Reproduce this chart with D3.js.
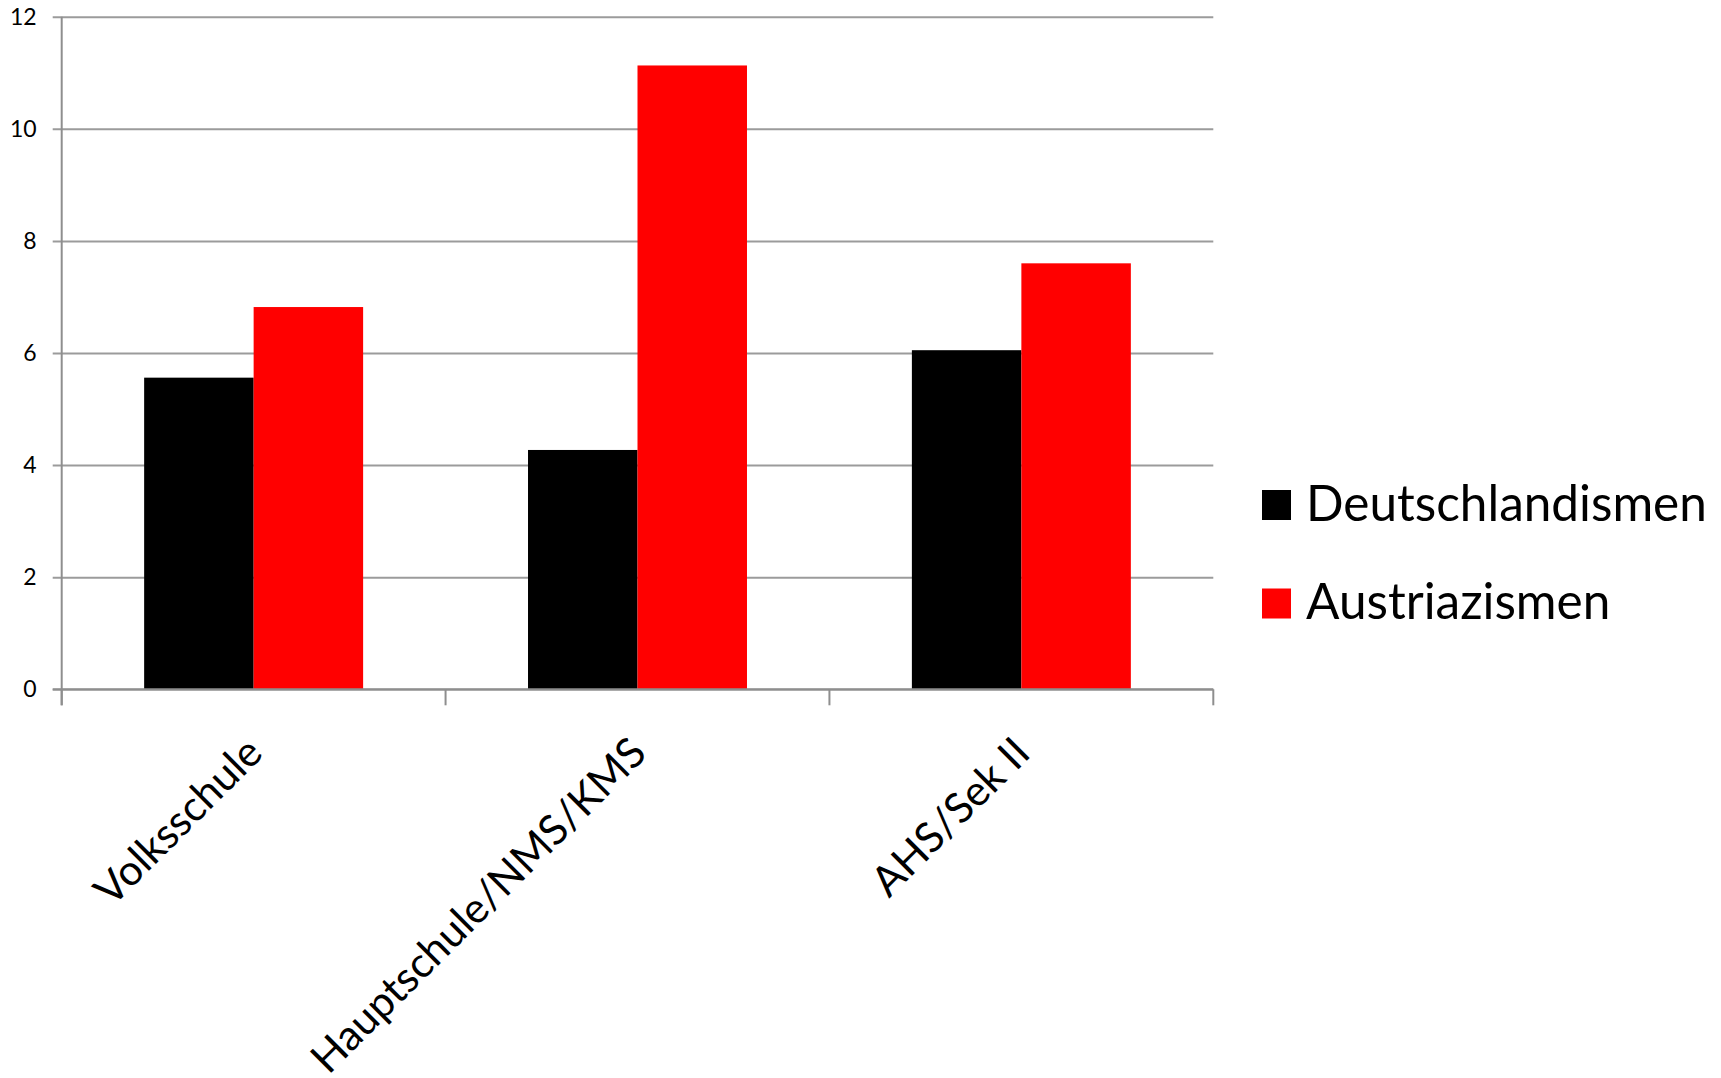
<!DOCTYPE html>
<html>
<head>
<meta charset="utf-8">
<script src="https://cdn.jsdelivr.net/npm/d3@7"></script>
<style>
  html, body { margin: 0; padding: 0; background: #fff; }
  svg { display: block; }
  text { font-family: Lato, "Open Sans", sans-serif; fill: #000; }
</style>
</head>
<body>
<svg id="chart" width="1721" height="1078"></svg>
<script>
// School types on the x axis
const categories = ["Volksschule", "Hauptschule/NMS/KMS", "AHS/Sek II"];
// Series names shown in the legend
const seriesNames = ["Deutschlandismen", "Austriazismen"];
// Values per school type
const deutschlandismen = [5.56, 4.27, 6.05];
const austriazismen = [6.82, 11.13, 7.60];
// Y axis ticks
const yTicks = [0, 2, 4, 6, 8, 10, 12];

const seriesColors = ["#000000", "#ff0000"];
const seriesValues = [deutschlandismen, austriazismen];

const svg = d3.select("#chart");

const plot = { left: 61.7, right: 1213.3, top: 16.7, bottom: 689.3 };

const x = d3.scaleBand()
  .domain(categories)
  .range([plot.left, plot.right])
  .padding(0);

const xSub = d3.scaleBand()
  .domain(seriesNames)
  .range([0, x.bandwidth()])
  .paddingInner(0)
  .paddingOuter(0.753);

const y = d3.scaleLinear()
  .domain([0, 12])
  .range([plot.bottom, plot.top]);

const gridColor = "#9b9b9b";
const axisColor = "#8e8e8e";

// Horizontal gridlines with short tick stubs on the left
const grid = svg.append("g")
  .attr("transform", `translate(${plot.left},0)`)
  .call(d3.axisLeft(y)
    .tickValues(yTicks)
    .tickSize(-(plot.right - plot.left))
    .tickSizeOuter(0)
    .tickFormat(""));
grid.select(".domain").remove();
grid.selectAll(".tick line")
  .attr("stroke", gridColor)
  .attr("stroke-width", 2)
  .attr("x1", -9);

// Y tick labels
const yAxis = svg.append("g")
  .attr("transform", `translate(${plot.left},0)`)
  .call(d3.axisLeft(y).tickValues(yTicks).tickSize(0).tickPadding(25).tickFormat(d3.format("d")));
yAxis.select(".domain").remove();
yAxis.selectAll("text")
  .style("font-family", "Lato, 'Open Sans', sans-serif")
  .attr("font-size", 23)
  .attr("fill", "#000");

// Bars
const groups = svg.append("g").selectAll("g")
  .data(categories)
  .join("g")
  .attr("transform", d => `translate(${x(d)},0)`);

groups.selectAll("rect")
  .data((d, i) => seriesNames.map((s, j) => ({ series: s, value: seriesValues[j][i], color: seriesColors[j] })))
  .join("rect")
  .attr("x", d => xSub(d.series))
  .attr("width", xSub.bandwidth())
  .attr("y", d => y(d.value))
  .attr("height", d => y(0) - y(d.value))
  .attr("fill", d => d.color);

// Vertical axis line
svg.append("line")
  .attr("x1", plot.left).attr("x2", plot.left)
  .attr("y1", plot.top).attr("y2", plot.bottom + 16)
  .attr("stroke", axisColor).attr("stroke-width", 2);

// Horizontal axis line and category separators
svg.append("line")
  .attr("x1", plot.left - 9).attr("x2", plot.right)
  .attr("y1", plot.bottom).attr("y2", plot.bottom)
  .attr("stroke", axisColor).attr("stroke-width", 2);

const boundaries = categories.map(c => x(c)).concat([x(categories[categories.length - 1]) + x.bandwidth()]);
svg.append("g").selectAll("line")
  .data(boundaries)
  .join("line")
  .attr("x1", d => d).attr("x2", d => d)
  .attr("y1", plot.bottom).attr("y2", plot.bottom + 16)
  .attr("stroke", axisColor).attr("stroke-width", 2);

// Rotated category labels
svg.append("g").selectAll("text")
  .data(categories)
  .join("text")
  .attr("text-anchor", "end")
  .attr("font-size", 42)
  .attr("transform", d => `translate(${x(d) + x.bandwidth() / 2 + 11},${plot.bottom + 66}) rotate(-45)`)
  .text(d => d);

// Legend
const legend = svg.append("g").attr("transform", "translate(1262,490)");
const items = legend.selectAll("g")
  .data(seriesNames)
  .join("g")
  .attr("transform", (d, i) => `translate(0,${i * 98.5})`);
items.append("rect")
  .attr("width", 29).attr("height", 30)
  .attr("fill", (d, i) => seriesColors[i]);
items.append("text")
  .attr("x", 44)
  .attr("y", 30.5)
  .attr("font-size", 49.5)
  .text(d => d);
</script>
</body>
</html>
